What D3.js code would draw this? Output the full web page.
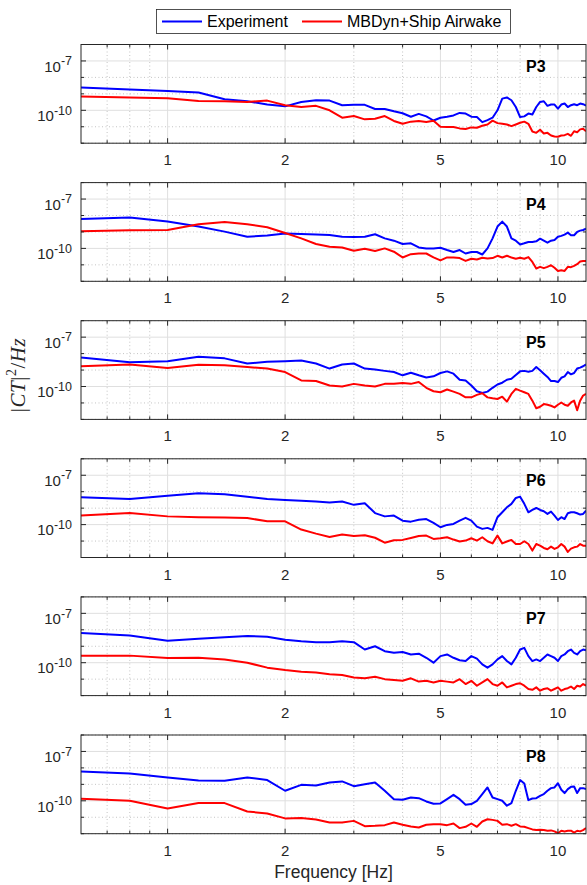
<!DOCTYPE html>
<html>
<head>
<meta charset="utf-8">
<script src="https://cdn.jsdelivr.net/npm/d3@7"></script>
<style>
body { margin: 0; background: #fff; }
svg { display: block; }
text { font-family: "Liberation Sans", Arial, sans-serif; }
</style>
</head>
<body>
<svg id="fig" width="587" height="885"></svg>
<script>
//DATA - frequencies in Hz, spectra stored as log10(|CT|^2/Hz)
var freqs = [0.6, 0.8, 1.0, 1.2, 1.4, 1.6, 1.8, 2.0,
	2.2, 2.4, 2.6, 2.8, 3.0, 3.2, 3.4, 3.6, 3.8, 4.0,
	4.2, 4.4, 4.6, 4.8, 5.0, 5.2, 5.4, 5.6, 5.8, 6.0,
	6.2, 6.4, 6.6, 6.8, 7.0, 7.2, 7.4, 7.6, 7.8, 8.0,
	8.2, 8.4, 8.6, 8.8, 9.0, 9.2, 9.4, 9.6, 9.8, 10.0,
	10.2, 10.4, 10.6, 10.8, 11.0, 11.2, 11.4, 11.6, 11.8];

var expP3 = [-8.61, -8.73, -8.82, -8.92, -9.33, -9.45, -9.65, -9.76,
	-9.49, -9.39, -9.41, -9.69, -9.67, -9.67, -9.92, -9.92, -10.06, -10.18,
	-10.39, -10.22, -10.37, -10.62, -10.45, -10.39, -10.31, -10.16, -10.2, -10.39,
	-10.41, -10.72, -10.6, -10.45, -10.0, -9.29, -9.22, -9.39, -9.8, -10.41,
	-10.37, -10.2, -10.25, -9.8, -9.49, -9.45, -9.73, -9.65, -9.65, -9.9,
	-9.65, -9.59, -9.8, -9.69, -9.63, -9.69, -9.59, -9.63, -9.71];
var simP3 = [-9.16, -9.22, -9.27, -9.43, -9.45, -9.49, -9.41, -9.69,
	-9.8, -9.73, -10.0, -10.45, -10.35, -10.55, -10.51, -10.35, -10.65, -10.82,
	-10.69, -10.65, -10.71, -10.63, -11.0, -11.02, -11.02, -11.1, -11.14, -11.04,
	-11.06, -10.94, -10.86, -10.63, -10.78, -10.82, -10.86, -10.96, -10.86, -10.76,
	-10.69, -10.82, -11.29, -11.37, -11.18, -11.41, -11.37, -11.53, -11.59, -11.61,
	-11.53, -11.51, -11.43, -11.55, -11.27, -11.33, -11.16, -11.12, -11.27];

var expP4 = [-8.22, -8.12, -8.37, -8.67, -8.98, -9.29, -9.22, -9.1,
	-9.12, -9.16, -9.18, -9.29, -9.31, -9.29, -9.14, -9.39, -9.53, -9.73,
	-9.69, -9.94, -10.0, -10.0, -9.96, -10.1, -10.22, -10.1, -10.31, -10.22,
	-10.22, -10.37, -10.0, -9.39, -8.67, -8.37, -8.67, -9.39, -9.53, -9.76,
	-9.69, -9.61, -9.61, -9.57, -9.41, -9.53, -9.65, -9.53, -9.49, -9.29,
	-9.24, -9.16, -9.04, -9.2, -9.2, -9.0, -8.92, -8.88, -8.8];
var simP4 = [-8.96, -8.9, -8.88, -8.53, -8.39, -8.53, -8.71, -9.06,
	-9.39, -9.73, -9.9, -9.94, -10.14, -10.02, -10.16, -10.0, -10.2, -10.55,
	-10.35, -10.31, -10.31, -10.55, -10.73, -10.55, -10.55, -10.59, -10.76, -10.63,
	-10.67, -10.57, -10.61, -10.59, -10.45, -10.55, -10.45, -10.55, -10.63, -10.57,
	-10.63, -10.53, -10.82, -11.22, -11.12, -11.2, -11.12, -11.02, -11.18, -11.37,
	-11.33, -11.37, -11.12, -11.14, -11.06, -10.96, -10.8, -10.76, -10.76];

var expP5 = [-8.23, -8.52, -8.46, -8.19, -8.29, -8.6, -8.5, -8.46,
	-8.42, -8.6, -8.91, -8.66, -8.6, -8.91, -8.97, -9.05, -9.12, -9.32,
	-9.16, -9.32, -9.45, -9.38, -9.18, -9.08, -9.22, -9.59, -9.63, -9.94,
	-10.29, -10.39, -10.31, -10.08, -9.88, -9.77, -9.59, -9.53, -9.3, -9.08,
	-9.05, -9.1, -9.05, -8.81, -9.01, -9.22, -9.42, -9.67, -9.67, -9.73,
	-9.47, -9.38, -9.12, -9.26, -9.18, -8.91, -8.85, -8.77, -8.66];
var simP5 = [-8.77, -8.66, -8.87, -8.68, -8.71, -8.81, -8.91, -9.12,
	-9.63, -9.67, -9.94, -10.0, -9.84, -9.94, -10.0, -9.84, -9.84, -9.79,
	-9.84, -9.73, -10.08, -10.29, -10.35, -10.18, -10.31, -10.45, -10.66, -10.66,
	-10.51, -10.41, -10.66, -10.72, -10.76, -10.62, -10.92, -10.45, -10.14, -10.25,
	-10.35, -10.45, -10.86, -11.32, -11.23, -11.07, -11.11, -11.17, -11.27, -11.11,
	-10.97, -11.11, -11.17, -10.97, -10.86, -11.44, -10.86, -10.55, -10.45];

var expP6 = [-8.34, -8.44, -8.25, -8.1, -8.15, -8.3, -8.45, -8.5,
	-8.55, -8.6, -8.65, -8.6, -8.8, -8.7, -9.3, -9.5, -9.45, -9.76,
	-9.82, -9.7, -9.66, -9.9, -10.16, -10.02, -9.96, -9.76, -9.59, -9.76,
	-10.12, -10.26, -10.2, -10.32, -9.55, -9.25, -8.95, -8.74, -8.38, -8.3,
	-8.74, -9.25, -9.11, -8.99, -9.11, -9.19, -9.35, -9.21, -9.45, -9.72,
	-9.55, -9.66, -9.31, -9.25, -9.25, -9.31, -9.39, -9.35, -9.15];
var simP6 = [-9.45, -9.29, -9.5, -9.55, -9.57, -9.6, -9.8, -9.8,
	-10.3, -10.55, -10.75, -10.6, -10.7, -10.65, -10.8, -11.1, -10.95, -10.93,
	-10.81, -10.69, -10.67, -10.87, -10.83, -10.77, -10.91, -11.03, -10.97, -10.83,
	-10.97, -10.77, -11.01, -11.14, -10.67, -11.14, -11.03, -10.93, -11.18, -11.18,
	-11.01, -11.18, -11.58, -11.18, -11.28, -11.42, -11.5, -11.34, -11.48, -11.38,
	-11.18, -11.34, -11.66, -11.46, -11.38, -11.34, -11.18, -11.28, -11.28];

var expP7 = [-8.2, -8.34, -8.66, -8.55, -8.45, -8.38, -8.42, -8.6,
	-8.7, -8.75, -8.75, -8.7, -8.75, -9.2, -9.0, -9.3, -9.4, -9.35,
	-9.5, -9.45, -9.7, -10.0, -9.6, -9.5, -9.7, -9.85, -9.9, -9.6,
	-9.75, -10.1, -10.3, -10.1, -9.8, -9.6, -9.9, -10.1, -9.7, -9.2,
	-9.1, -9.6, -9.9, -9.8, -9.9, -9.7, -9.5, -9.6, -9.7, -9.9,
	-9.6, -9.5, -9.3, -9.2, -9.4, -9.5, -9.3, -9.2, -9.25];
var simP7 = [-9.57, -9.57, -9.72, -9.7, -9.8, -10.0, -10.3, -10.45,
	-10.55, -10.6, -10.7, -10.75, -10.9, -10.95, -10.85, -11.0, -11.05, -11.1,
	-10.95, -11.15, -11.1, -11.2, -11.1, -11.15, -11.2, -11.0, -11.3, -11.1,
	-11.4, -11.2, -11.0, -11.3, -11.4, -11.2, -11.5, -11.4, -11.3, -11.25,
	-11.4, -11.6, -11.65, -11.5, -11.7, -11.6, -11.55, -11.7, -11.6, -11.5,
	-11.7, -11.6, -11.55, -11.45, -11.6, -11.4, -11.45, -11.3, -11.4];

var expP8 = [-8.22, -8.34, -8.58, -8.76, -8.78, -8.58, -8.74, -9.39,
	-9.03, -9.07, -8.89, -8.82, -9.11, -8.99, -8.89, -9.39, -9.9, -9.94,
	-9.8, -9.84, -10.04, -10.18, -10.16, -9.9, -9.64, -9.9, -10.24, -10.2,
	-10.0, -9.59, -9.19, -9.8, -9.9, -10.0, -10.3, -10.14, -9.39, -8.74,
	-8.95, -9.96, -9.86, -9.84, -9.7, -9.59, -9.39, -9.23, -9.19, -8.93,
	-9.33, -9.53, -9.29, -9.15, -9.13, -9.53, -9.23, -9.23, -9.29];
var simP8 = [-9.88, -10.0, -10.47, -10.14, -10.14, -10.65, -10.77, -11.07,
	-11.05, -11.14, -11.32, -11.32, -11.22, -11.54, -11.52, -11.48, -11.32, -11.46,
	-11.56, -11.62, -11.46, -11.42, -11.42, -11.48, -11.38, -11.66, -11.58, -11.38,
	-11.58, -11.26, -11.12, -11.16, -11.22, -11.46, -11.42, -11.52, -11.42, -11.56,
	-11.58, -11.66, -11.74, -11.78, -11.76, -11.78, -11.82, -11.8, -11.86, -11.97,
	-11.82, -11.86, -11.82, -11.82, -11.93, -11.82, -11.86, -11.78, -11.66];

var panelNames = ['P3', 'P4', 'P5', 'P6', 'P7', 'P8'];
var expSeries = [expP3, expP4, expP5, expP6, expP7, expP8];
var simSeries = [simP3, simP4, simP5, simP6, simP7, simP8];

var xTicks = [1, 2, 5, 10];
var xMinor = [0.7, 0.8, 0.9, 3, 4, 6, 7, 8, 9];
var yTicks = [1e-7, 1e-10];
var yTickExp = ['-7', '-10'];
var yMinor = [1e-6, 1e-8, 1e-9, 1e-11, 1e-12];

var legendLabels = ['Experiment', 'MBDyn+Ship Airwake'];
var seriesCols = ['#0000ff', '#ff0000'];

//LAYOUT
var plotLeft = 81, plotRight = 586;
var panelTop0 = 44.5, panelStep = 138.1, panelH = 98.7;
var axisCol = '#262626';

var svg = d3.select('#fig');
var x = d3.scaleLog().domain([0.6, 11.8]).range([plotLeft, plotRight]);

function drawPanel(i)
{
	var top = panelTop0 + i * panelStep;
	var bottom = top + panelH;
	var y = d3.scaleLog().domain([1e-12, 1e-6]).range([bottom, top]);
	var g = svg.append('g').attr('class', 'panel');

	g.append('clipPath').attr('id', 'clip' + i)
		.append('rect')
		.attr('x', plotLeft).attr('y', top)
		.attr('width', plotRight - plotLeft).attr('height', panelH);

	// grid
	g.selectAll('.xminor').data(xMinor).enter().append('line')
		.attr('x1', x).attr('x2', x).attr('y1', top).attr('y2', bottom)
		.attr('stroke', '#c4c4c4').attr('stroke-dasharray', '1,2.5');
	g.selectAll('.yminor').data(yMinor).enter().append('line')
		.attr('y1', y).attr('y2', y).attr('x1', plotLeft).attr('x2', plotRight)
		.attr('stroke', '#c4c4c4').attr('stroke-dasharray', '1,2.5');
	g.selectAll('.xmajor').data(xTicks).enter().append('line')
		.attr('x1', x).attr('x2', x).attr('y1', top).attr('y2', bottom)
		.attr('stroke', '#dfdfdf');
	g.selectAll('.ymajor').data(yTicks).enter().append('line')
		.attr('y1', y).attr('y2', y).attr('x1', plotLeft).attr('x2', plotRight)
		.attr('stroke', '#dfdfdf');

	// curves
	var line = d3.line()
		.x(function(d) { return x(d[0]); })
		.y(function(d) { return y(d[1]); });
	[expSeries[i], simSeries[i]].forEach(function(s, k) {
		var pts = freqs.map(function(f, j) { return [f, Math.pow(10, s[j])]; });
		g.append('path')
			.datum(pts)
			.attr('clip-path', 'url(#clip' + i + ')')
			.attr('fill', 'none')
			.attr('stroke', seriesCols[k])
			.attr('stroke-width', 2)
			.attr('stroke-linejoin', 'round')
			.attr('d', line);
	});

	// ticks (pointing inward, on all four sides)
	var tickG = g.append('g').attr('stroke', axisCol);
	xTicks.concat(xMinor).forEach(function(v) {
		var len = xTicks.indexOf(v) >= 0 ? 5 : 3;
		tickG.append('line').attr('x1', x(v)).attr('x2', x(v)).attr('y1', bottom).attr('y2', bottom - len);
		tickG.append('line').attr('x1', x(v)).attr('x2', x(v)).attr('y1', top).attr('y2', top + len);
	});
	yTicks.concat(yMinor).forEach(function(v) {
		var len = yTicks.indexOf(v) >= 0 ? 5 : 3;
		tickG.append('line').attr('y1', y(v)).attr('y2', y(v)).attr('x1', plotLeft).attr('x2', plotLeft + len);
		tickG.append('line').attr('y1', y(v)).attr('y2', y(v)).attr('x1', plotRight).attr('x2', plotRight - len);
	});

	g.append('rect')
		.attr('x', plotLeft).attr('y', top)
		.attr('width', plotRight - plotLeft).attr('height', panelH)
		.attr('fill', 'none').attr('stroke', axisCol).attr('stroke-width', 1);

	// x tick labels
	g.selectAll('.xlab').data(xTicks).enter().append('text')
		.attr('x', x).attr('y', bottom + 22)
		.attr('text-anchor', 'middle')
		.attr('font-size', '15px')
		.attr('fill', axisCol)
		.text(function(d) { return d; });

	// y tick labels 10^n
	yTicks.forEach(function(v, k) {
		var t = g.append('text')
			.attr('x', 72).attr('y', y(v) + 10.7)
			.attr('text-anchor', 'end')
			.attr('fill', axisCol);
		t.append('tspan').attr('font-size', '15px').text('10');
		t.append('tspan').attr('font-size', '12.5px').attr('dy', -6.5).text(yTickExp[k]);
	});

	g.append('text')
		.attr('x', 526).attr('y', top + 27)
		.attr('font-size', '16px').attr('font-weight', 'bold')
		.attr('fill', '#000')
		.text(panelNames[i]);
}

for (var i = 0; i < panelNames.length; i++) { drawPanel(i); }

//LEGEND
var leg = svg.append('g');
leg.append('rect')
	.attr('x', 156.5).attr('y', 9.5).attr('width', 354).attr('height', 24)
	.attr('fill', '#fff').attr('stroke', axisCol).attr('stroke-width', 0.8);
var legX = [162, 302];
legendLabels.forEach(function(lab, k) {
	leg.append('line')
		.attr('x1', legX[k]).attr('x2', legX[k] + 40)
		.attr('y1', 21.5).attr('y2', 21.5)
		.attr('stroke', seriesCols[k]).attr('stroke-width', 2);
	leg.append('text')
		.attr('x', legX[k] + 45).attr('y', 27)
		.attr('font-size', '16px').attr('fill', '#000')
		.text(lab);
});

//AXIS LABELS
svg.append('text')
	.attr('x', (plotLeft + plotRight) / 2).attr('y', 878)
	.attr('text-anchor', 'middle')
	.attr('font-size', '17.5px').attr('fill', axisCol)
	.text('Frequency [Hz]');

var yl = svg.append('text')
	.attr('transform', 'translate(25,375) rotate(-90)')
	.attr('text-anchor', 'middle')
	.attr('fill', axisCol)
	.attr('font-size', '21px')
	.attr('letter-spacing', '0.5px')
	.style('font-family', '"Liberation Serif", "DejaVu Serif", serif');
yl.append('tspan').text('|');
yl.append('tspan').attr('font-style', 'italic').text('CT');
yl.append('tspan').text('|');
yl.append('tspan').attr('font-size', '14px').attr('dy', -9).text('2');
yl.append('tspan').attr('dy', 9).text('/');
yl.append('tspan').attr('font-style', 'italic').text('Hz');
</script>
</body>
</html>
